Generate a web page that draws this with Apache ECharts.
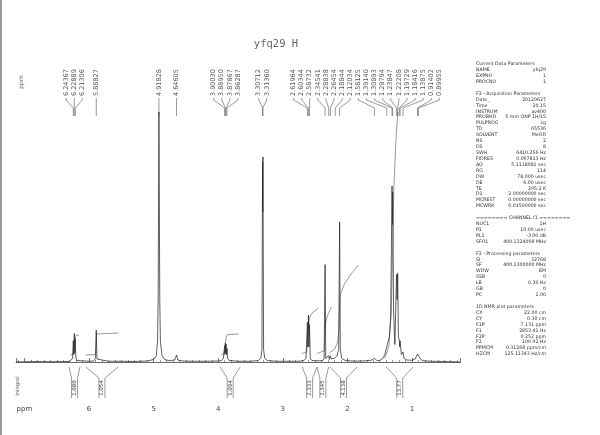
<!DOCTYPE html>
<html><head><meta charset="utf-8">
<script src="https://cdn.jsdelivr.net/npm/echarts@6/dist/echarts.min.js"></script>
<style>html,body{margin:0;padding:0;background:#fff}#c{width:600px;height:435px}</style>
</head><body><div id="c"></div>
<script>
const titleText = 'yfq29 H';
const ppmRange = [0.252, 7.131];
const tickLabels = {1:'1',2:'2',3:'3',4:'4',5:'5',6:'6',7:'ppm'};

// spectrum trace: [ppm, intensity]
const spectrum = [
 [7.131,0],[7.0,0.1],[6.8,0.2],[6.6,0.1],[6.4,0.2],[6.3,0.2],[6.27,0.4],[6.255,1.5],
 [6.2437,8.5],[6.236,3],[6.2289,11.4],[6.221,3.5],[6.2131,9.5],[6.205,2],[6.19,0.6],[6.16,0.2],
 [6.0,0.3],[5.93,0.4],[5.90,1.5],[5.8883,12.8],[5.878,1.2],[5.86,0.4],[5.7,0.3],[5.5,0.3],
 [5.3,0.2],[5.1,0.4],[5.0,1.0],[4.96,2.5],[4.94,8],[4.93,25],[4.9183,100],[4.905,25],[4.895,8],
 [4.87,2.5],[4.83,1.0],[4.75,0.5],[4.67,0.9],[4.646,2.8],[4.625,0.8],[4.55,0.4],[4.4,0.3],
 [4.2,0.3],[4.0,0.4],[3.95,0.6],[3.92,1.5],[3.9003,6.5],[3.895,3],[3.8895,7.6],[3.884,3.5],
 [3.8787,7.2],[3.871,3],[3.8629,5.5],[3.855,1.5],[3.83,0.6],[3.7,0.3],[3.5,0.3],[3.38,0.6],
 [3.34,1.5],[3.323,5],[3.3136,80],[3.310,60],[3.3071,82],[3.298,5],[3.28,1.5],[3.24,0.6],
 [3.1,0.3],[2.9,0.3],[2.75,0.3],[2.67,0.6],[2.64,1.5],[2.6196,16],[2.612,6],[2.6034,18.8],
 [2.595,6],[2.5873,15],[2.575,1.5],[2.55,0.6],[2.49,0.5],[2.46,0.9],[2.43,0.5],[2.38,0.6],
 [2.36,1.5],[2.3454,39],[2.335,1.5],[2.31,0.8],[2.2884,2.6],[2.28,1.0],[2.2645,2.4],[2.25,1.2],
 [2.2,1.5],[2.1884,2.2],[2.16,2.5],[2.135,5],[2.1203,56],[2.11,5],[2.09,1.5],[2.05,0.8],
 [2.0,0.5],[1.9,0.4],[1.8,0.4],[1.7,0.5],[1.62,0.8],[1.5813,1.5],[1.55,0.7],[1.5,0.6],
 [1.45,1.5],[1.42,3],[1.3914,6],[1.35,10],[1.33,18],[1.3089,70.4],[1.303,55],[1.2979,68],
 [1.285,20],[1.265,7],[1.2385,35],[1.23,25],[1.2221,35.5],[1.21,10],[1.1973,9],[1.19,6],
 [1.1842,8.5],[1.165,3],[1.1388,4],[1.125,1.5],[1.08,0.8],[1.0,0.7],[0.95,1.2],[0.914,3.2],
 [0.8996,3.0],[0.87,1.2],[0.83,0.5],[0.7,0.3],[0.5,0.2],[0.252,0]
];

const peakLabels = [6.24367,6.22889,6.21306,5.88827,4.91828,4.64605,3.90030,3.88950,3.87867,3.86287,
 3.30712,3.31360,2.61964,2.60344,2.58732,2.34541,2.28838,2.26454,2.18844,2.12034,1.58125,
 1.39140,1.30893,1.29794,1.23847,1.22208,1.19729,1.18416,1.13875,0.91402,0.89955];

const integralRegions = [[6.31,6.14],[6.05,5.55],[3.97,3.66],[2.70,2.47],[2.47,2.29],[2.27,1.85],[1.40,0.98]];
const integralValues = ['1.080','1.054','1.094','2.333','2.345','4.138','13.77'];
const integralCurves = [
 [[6.29,2.8],[6.25,3.0],[6.235,5],[6.22,9.5],[6.205,10.6],[6.155,10.8]],
 [[6.05,2.8],[5.9,3.0],[5.893,6],[5.885,11.2],[5.87,11.6],[5.55,11.6]],
 [[3.95,2.8],[3.91,3.4],[3.895,6],[3.875,10],[3.855,11.0],[3.68,11.2]],
 [[2.71,3.4],[2.63,4],[2.615,10],[2.6,15],[2.585,18],[2.55,19.5],[2.5,20.5],[2.45,21.6]],
 [[2.47,3.4],[2.36,4.5],[2.345,12],[2.335,16],[2.3,19],[2.25,22]],
 [[2.28,3.6],[2.2,5],[2.15,8],[2.13,13],[2.12,22],[2.11,27],[2.05,31],[1.95,35],[1.83,38.8]],
 [[1.42,1.6],[1.36,6],[1.32,20],[1.30,45],[1.28,70],[1.25,88],[1.22,100]]
];

const paramLines = [
 ['Current Data Parameters',''],['NAME','yfq29'],['EXPNO','1'],['PROCNO','1'],['',''],
 ['F2 - Acquisition Parameters',''],['Date_','20120627'],['Time','20.15'],['INSTRUM','av400'],
 ['PROBHD','5 mm QNP 1H/15'],['PULPROG','zg'],['TD','65536'],['SOLVENT','MeOD'],['NS','2'],
 ['DS','8'],['SWH','6410.256 Hz'],['FIDRES','0.097813 Hz'],['AQ','5.1118081 sec'],['RG','114'],
 ['DW','78.000 usec'],['DE','6.00 usec'],['TE','295.2 K'],['D1','2.00000000 sec'],
 ['MCREST','0.00000000 sec'],['MCWRK','0.01500000 sec'],['',''],
 ['======== CHANNEL f1 ========',''],['NUC1','1H'],['P1','10.00 usec'],['PL1','-3.00 dB'],
 ['SFO1','400.1324008 MHz'],['',''],
 ['F2 - Processing parameters',''],['SI','32768'],['SF','400.1300000 MHz'],['WDW','EM'],
 ['SSB','0'],['LB','0.30 Hz'],['GB','0'],['PC','1.00'],['',''],
 ['1D NMR plot parameters',''],['CX','22.00 cm'],['CY','0.30 cm'],['F1P','7.131 ppm'],
 ['F1','2853.41 Hz'],['F2P','0.252 ppm'],['F2','100.92 Hz'],['PPMCM','0.31268 ppm/cm'],
 ['HZCM','125.11343 Hz/cm']
];

const chart = echarts.init(document.getElementById('c'), null, {renderer:'canvas'});

const series = [{
  type:'line', data: spectrum, showSymbol:false, symbol:'none', sampling:'none',
  lineStyle:{color:'#2a2a2a', width:0.75}, silent:true, z:3
}];
integralCurves.forEach(c => series.push({
  type:'line', data:c, showSymbol:false, symbol:'none',
  lineStyle:{color:'#555', width:0.6}, silent:true, z:2
}));

chart.setOption({
  animation:false,
  backgroundColor:'#fff',
  grid:{left:16, right:139.7, top:112, bottom:33},
  xAxis:{
    type:'value', min:ppmRange[0], max:ppmRange[1], inverse:true, splitNumber:7,
    axisLine:{lineStyle:{color:'#444', width:0.8}},
    axisTick:{inside:true, length:4, lineStyle:{color:'#444', width:0.7}},
    minorTick:{show:true, splitNumber:10, length:2, lineStyle:{color:'#555', width:0.6}},
    splitLine:{show:false},
    axisLabel:{
      showMinLabel:false, showMaxLabel:false, margin:4, fontSize:7,
      fontFamily:'DejaVu Sans', color:'#444',
      formatter: v => { const r = Math.round(v); return Math.abs(v-r)<1e-6 && tickLabels[r] ? tickLabels[r] : ''; }
    }
  },
  yAxis:{type:'value', min:-16, max:100, show:false},
  series
});

// annotations positioned through the axes
const px = p => chart.convertToPixel({gridIndex:0}, [p, 0])[0];
const g = [];
g.push({type:'rect', shape:{x:0,y:0,width:2,height:435}, style:{fill:'#9a9a9a'}, silent:true});
g.push({type:'text', x:276, y:44, style:{text:titleText, font:'10.5px "DejaVu Sans Mono"', fill:'#666', align:'center', verticalAlign:'middle'}});
g.push({type:'text', x:21, y:82, rotation:Math.PI/2, style:{text:'ppm', font:'6px "DejaVu Sans"', fill:'#555', align:'center', verticalAlign:'middle'}});
g.push({type:'text', x:18, y:386, rotation:Math.PI/2, style:{text:'Integral', font:'5px "DejaVu Sans"', fill:'#555', align:'center', verticalAlign:'middle'}});

// peak label spreading
const GAP = 8.1;
const ideal = peakLabels.map(px);
let clusters = ideal.map((x,i)=>({idx:[i], ideal:[x]}));
const place = c => { const n=c.ideal.length; const m=c.ideal.reduce((a,b)=>a+b,0)/n; c.start=m-(n-1)*GAP/2; c.end=c.start+(n-1)*GAP; };
clusters.forEach(place);
let changed = true;
while (changed) {
  changed = false;
  for (let i=0;i<clusters.length-1;i++) {
    if (clusters[i].end + GAP > clusters[i+1].start) {
      const m = {idx:clusters[i].idx.concat(clusters[i+1].idx), ideal:clusters[i].ideal.concat(clusters[i+1].ideal)};
      place(m); clusters.splice(i,2,m); changed = true; break;
    }
  }
}
const labelX = [];
clusters.forEach(c => c.idx.forEach((id,k) => { labelX[id] = c.start + k*GAP; }));
peakLabels.forEach((p,i) => {
  const lx = labelX[i], pxp = ideal[i];
  g.push({type:'text', x:lx, y:96, rotation:Math.PI/2,
    style:{text:p.toFixed(5), font:'6.5px "DejaVu Sans"', fill:'#555', align:'left', verticalAlign:'middle'}, silent:true});
  g.push({type:'polyline', shape:{points:[[lx,98],[lx,100],[pxp,108],[pxp,116]]},
    style:{stroke:'#555', lineWidth:0.6, fill:null}, silent:true});
});

// integral brackets
integralRegions.forEach((r,i) => {
  const xl = px(r[0]), xr = px(r[1]), c = (xl+xr)/2, h = 3;
  g.push({type:'polyline', shape:{points:[[xl,367],[c-h,378],[c-h,398]]}, style:{stroke:'#555', lineWidth:0.6, fill:null}, silent:true});
  g.push({type:'polyline', shape:{points:[[xr,367],[c+h,378],[c+h,398]]}, style:{stroke:'#555', lineWidth:0.6, fill:null}, silent:true});
  g.push({type:'text', x:c, y:388, rotation:Math.PI/2,
    style:{text:integralValues[i], font:'5.5px "DejaVu Sans"', fill:'#444', align:'center', verticalAlign:'middle'}, silent:true});
});

// parameter block
paramLines.forEach((l,i) => {
  const y = 64 + i*5.92;
  if (l[0]) g.push({type:'text', x:476, y, style:{text:l[0], font:'4.7px "DejaVu Sans"', fill:'#333', align:'left', verticalAlign:'middle'}, silent:true});
  if (l[1]) g.push({type:'text', x:546, y, style:{text:l[1], font:'4.7px "DejaVu Sans"', fill:'#333', align:'right', verticalAlign:'middle'}, silent:true});
});

chart.setOption({graphic:{elements:g}});
</script></body></html>
